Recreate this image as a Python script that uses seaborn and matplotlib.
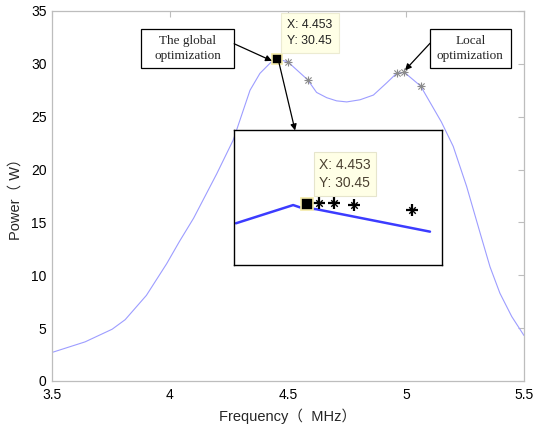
import numpy as np
import pandas as pd
import matplotlib
matplotlib.use("Agg")
import matplotlib.pyplot as plt
import matplotlib.patches as mpatches
import seaborn as sns

# === data ====================================================================
freq = [3.5, 3.64, 3.755, 3.81, 3.90, 3.986, 4.04, 4.10, 4.198, 4.268, 4.339,
        4.381, 4.43, 4.453, 4.499, 4.583, 4.621, 4.664, 4.706, 4.749, 4.805,
        4.862, 4.918, 4.96, 4.993, 5.062, 5.15, 5.20, 5.257, 5.314, 5.356,
        5.398, 5.448, 5.5]
power = [2.7, 3.7, 4.9, 5.8, 8.1, 11.1, 13.2, 15.4, 19.6, 22.8, 27.5,
         29.1, 30.2, 30.45, 30.2, 28.5, 27.3, 26.8, 26.5, 26.4, 26.6,
         27.05, 28.2, 29.1, 29.2, 27.9, 24.5, 22.2, 18.4, 14.0, 10.8,
         8.3, 6.1, 4.3]

# search points (asterisks) on the main curve
star_f = [4.499, 4.583, 4.96, 4.993, 5.062]
star_p = [30.2, 28.5, 29.1, 29.2, 27.9]

# global optimum
best_f = 4.453
best_p = 30.45

# zoomed view (inset)
zoom_f = [4.343, 4.431, 4.4415, 4.467, 4.6415]
zoom_p = [30.309, 30.444, 30.427, 30.413, 30.247]
zoom_star_f = [4.471, 4.494, 4.524, 4.614]
zoom_star_p = [30.457, 30.457, 30.442, 30.407]

xticks = [3.5, 4, 4.5, 5, 5.5]
xticklabels = ["3.5", "4", "4.5", "5", "5.5"]
yticks = [0, 5, 10, 15, 20, 25, 30, 35]

df = pd.DataFrame({"f": freq, "p": power})
df_star = pd.DataFrame({"f": star_f, "p": star_p})
df_zoom = pd.DataFrame({"f": zoom_f, "p": zoom_p})
df_zstar = pd.DataFrame({"f": zoom_star_f, "p": zoom_star_p})

# === style ===================================================================
sns.set_theme(style="white")
plt.rcParams["font.family"] = ["Liberation Sans", "Noto Sans CJK SC", "DejaVu Sans"]
axis_gray = "#bdbdbd"

W, H = 534, 428
fig = plt.figure(figsize=(W / 100, H / 100), dpi=100)
ax = fig.add_axes([52 / W, 1 - 381 / H, 472 / W, 370 / H])

sns.lineplot(data=df, x="f", y="p", ax=ax, color="#9d9dff", lw=0.8,
             estimator=None, sort=False)
# MATLAB-like '*' marker = '+' and 'x' on top of each other
sns.scatterplot(data=df_star, x="f", y="p", ax=ax, marker="+", s=30,
                color="#8a8a8a", linewidth=0.8, zorder=4)
sns.scatterplot(data=df_star, x="f", y="p", ax=ax, marker="x", s=20,
                color="#8a8a8a", linewidth=0.8, zorder=4)
ax.plot([best_f], [best_p], marker="s", ms=7.5, color="black",
        mec="#f3eaa8", mew=1.2, zorder=6)

ax.set_xlim(3.5, 5.5)
ax.set_ylim(0, 35)
ax.set_xticks(xticks)
ax.set_xticklabels(xticklabels)
ax.set_yticks(yticks)
ax.tick_params(direction="in", length=4, width=0.8, color=axis_gray,
               labelsize=10, labelcolor="black", top=True, right=True)
ax.tick_params(axis="x", pad=5)
ax.tick_params(axis="y", pad=4)
for s in ax.spines.values():
    s.set_color(axis_gray)
    s.set_linewidth(0.9)
ax.set_xlabel("Frequency（  MHz）", fontsize=10.5, labelpad=5)
ax.set_ylabel("Power（ W）", fontsize=10.5, labelpad=6)

# data tip in the main axes
ax.text(4.497, 32.9, "X: 4.453\nY: 30.45", fontsize=8.8, color="#222222",
        va="center", ha="left", linespacing=1.4, zorder=7,
        bbox=dict(boxstyle="square,pad=0.5", fc="#ffffe6", ec="#ecebd2", lw=0.8))

# callout boxes
serif = ["Liberation Serif", "DejaVu Serif"]
ax.add_patch(mpatches.Rectangle((3.877, 29.61), 0.394, 3.69, fc="white",
                                ec="black", lw=0.9, zorder=7))
ax.add_patch(mpatches.Rectangle((5.102, 29.61), 0.343, 3.69, fc="white",
                                ec="black", lw=0.9, zorder=7))
ax.text(4.074, 31.46, "The global\noptimization", family=serif, fontsize=9.5,
        ha="center", va="center", linespacing=1.25, zorder=8)
ax.text(5.273, 31.46, "Local\noptimization", family=serif, fontsize=9.5,
        ha="center", va="center", linespacing=1.25, zorder=8)

arrow = dict(arrowstyle="-|>", color="black", lw=0.9, mutation_scale=9,
             shrinkA=0, shrinkB=0)
ax.annotate("", xy=(4.432, 30.28), xytext=(4.272, 31.9), arrowprops=arrow, zorder=8)
ax.annotate("", xy=(4.53, 23.7), xytext=(4.462, 30.09), arrowprops=arrow, zorder=8)
ax.annotate("", xy=(4.996, 29.4), xytext=(5.102, 31.95), arrowprops=arrow, zorder=8)

# === inset ===================================================================
ins = fig.add_axes([234 / W, 1 - 265 / H, 208 / W, 135 / H])
sns.lineplot(data=df_zoom, x="f", y="p", ax=ins, color="#3c3cff", lw=1.8,
             estimator=None, sort=False)
sns.scatterplot(data=df_zstar, x="f", y="p", ax=ins, marker="+", s=80,
                color="black", linewidth=1.6, zorder=4)
sns.scatterplot(data=df_zstar, x="f", y="p", ax=ins, marker="x", s=22,
                color="black", linewidth=1.0, zorder=4)
ins.plot([best_f], [best_p], marker="s", ms=8, color="black",
         mec="#f3eaa8", mew=1.2, zorder=6)
ins.text(4.471, 30.674, "X: 4.453\nY: 30.45", fontsize=10, color="#4a4030",
         va="center", ha="left", linespacing=1.4, zorder=7,
         bbox=dict(boxstyle="square,pad=0.4", fc="#ffffe6", ec="#e6e5cc", lw=0.8))
ins.set_xlim(4.34, 4.66)
ins.set_ylim(30.0, 31.0)
ins.set_xticks([])
ins.set_yticks([])
ins.set_xlabel("")
ins.set_ylabel("")
for s in ins.spines.values():
    s.set_color("black")
    s.set_linewidth(1.0)

fig.savefig("out.png", dpi=100)
